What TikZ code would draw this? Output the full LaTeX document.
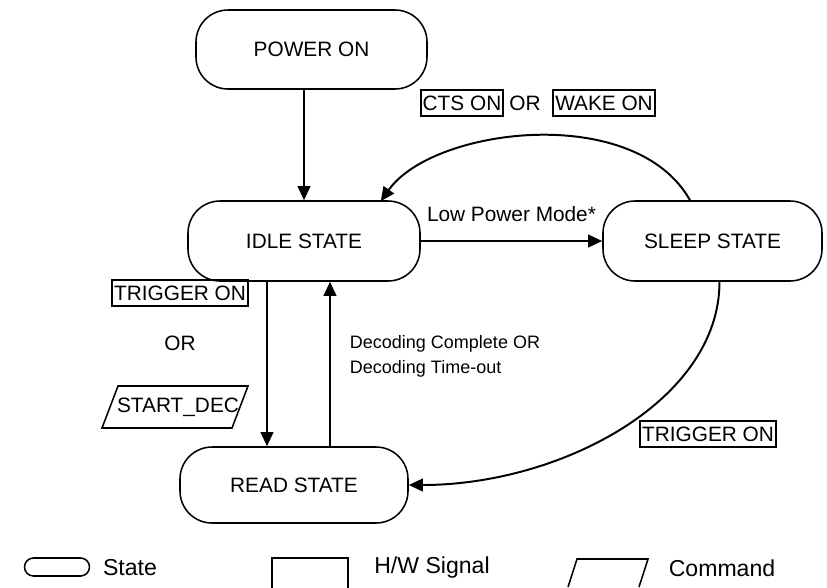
\documentclass[tikz,border=0pt]{standalone}
\usepackage{fontspec}
\setmainfont{Liberation Sans}
\usepackage{tikz}
\usetikzlibrary{
  arrows.meta,
  positioning,
  calc
}
\newcommand{\px}{0.025cm}
\newcommand{\hwSignal}[3]{\node[hwSignal] (#1) at (#2) {#3};}
\tikzset{
  state/.style={
    draw,
    line width=1.1pt,
    rounded corners=32*\px,
    minimum height=80*\px
  }
}
\tikzset{
  hwSignal/.style={
    draw,
    line width=1.3pt,
    inner xsep=2*\px,
    inner ysep=0pt,
    minimum height=26*\px
  }
}
\tikzset{
  flow/.style={
    ->,
    line width=1.4pt
  },
  cmdLine/.style={
    line width=1.1pt
  },
  legend/.style={
    font=\fontsize{16.4}{19.7}\selectfont
  },
  note/.style={
    font=\fontsize{12.8}{17.8}\selectfont
  }
}

\begin{document}
\begin{tikzpicture}[x=\px, y=-\px, >={Triangle[length=10pt,width=9pt]},
    font=\fontsize{14.8}{17.8}\selectfont]
    \useasboundingbox (0,0) rectangle (827,587);
    \clip (0,0) rectangle (827,587);

    \node[state, minimum width=231*\px, minimum height=79*\px] (power) at (311.5,49.5) {POWER ON};
    \node[state, minimum width=232*\px] (idle) at (304,241) {IDLE STATE};
    \node[state, minimum width=219*\px] (sleep) at (712.5,241) {SLEEP STATE};
    \node[state, minimum width=228*\px, minimum height=76*\px] (read) at (294,485) {READ STATE};

    \draw[flow] ([xshift=-7.5*\px]power.south) -- ([xshift=-7.5*\px]power.south |- idle.north);
    \draw[flow] (idle) -- node[above=0.35cm] (lowpower) {Low Power Mode*} (sleep);
    \draw[flow] ($(sleep.north)+(-22.5,0)$) .. controls +(-55,-98) and +(52,-74)
      .. ($(idle.north east)+(-40,1)$);
    \draw[flow] ($(sleep.south)+(7,0)$) .. controls +(0,119) and +(152,0) .. (read.east);
    \draw[flow] ([xshift=-37*\px]idle.south) -- ([xshift=-37*\px]idle.south |- read.north);
    \draw[flow] ([xshift=36*\px]read.north) -- ([xshift=36*\px]read.north |- idle.south);

    \hwSignal{cts}{462,103}{CTS ON}
    \node (ctsor) at (525,103) {OR};
    \hwSignal{wake}{604,103}{WAKE ON}

    \hwSignal{trigleft}{180,293}{TRIGGER ON}
    \node (trigor) at (180,343) {OR};
    \node (startdec) at (178,407) {START\_DEC};
    \draw[cmdLine] ($(startdec)+(-76,21)$) -- ++(130,0) -- ++(16,-42) -- ++(-130,0) -- cycle;

    \node[note, align=left, anchor=west] (decoding) at (345,356)
      {Decoding Complete OR\\Decoding Time-out};
    \hwSignal{trigright}{708,434}{TRIGGER ON}

    % legend
    \node[state, minimum width=65*\px, minimum height=18*\px, rounded corners=9*\px] (keystate) at (57,567) {};
    \node[legend] (keystatetext) at (130,568) {State};
    \node[draw, line width=1.1pt, minimum width=76*\px, minimum height=40*\px] (keyhw) at (310,578) {};
    \node[legend] (keyhwtext) at (432,568) {H/W Signal};
    \coordinate (keycmd) at (608,573);
    \draw[cmdLine] ($(keycmd)+(-40,14)$) -- ++(9,-28) -- ++(71,0) -- ++(-9,28);
    \node[legend] (keycmdtext) at (722,568) {Command};
  \end{tikzpicture}
\end{document}
